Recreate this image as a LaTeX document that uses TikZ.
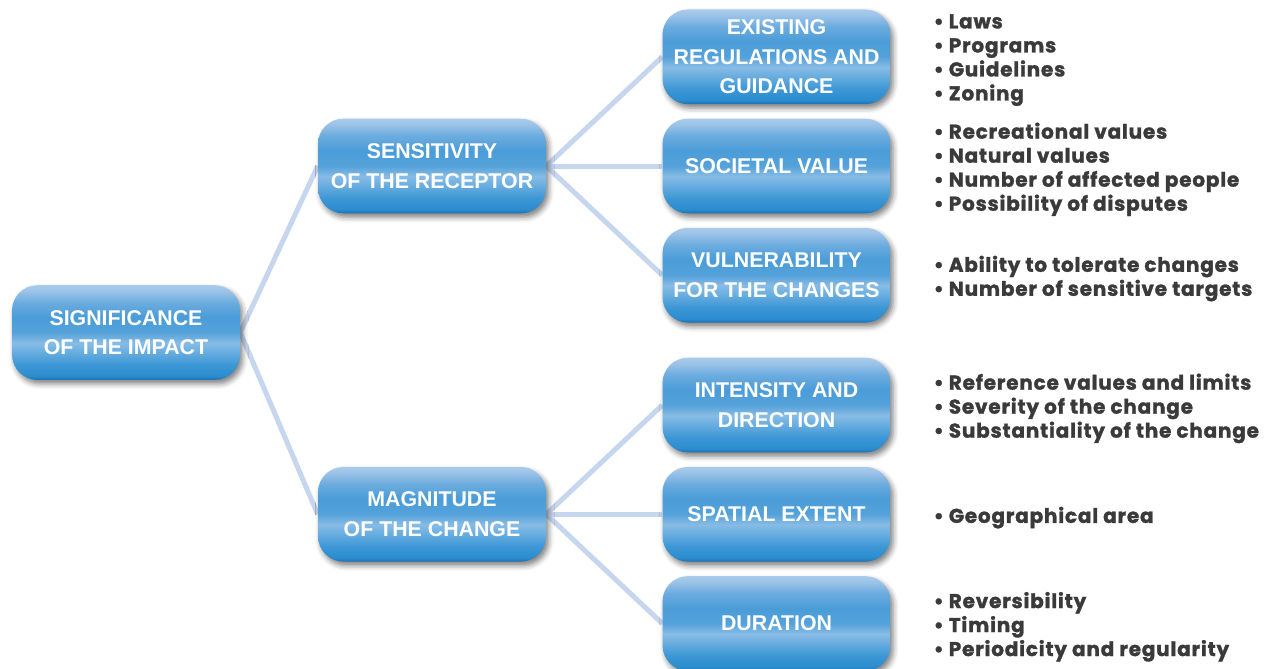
\documentclass[tikz,border=0pt]{standalone}
\usepackage{fontspec}
\setmainfont{Liberation Sans}
\newfontfamily\listfont{Poppins}[BoldFeatures={FakeBold=1.4}, LetterSpace=4]
\usetikzlibrary{positioning,backgrounds,shadows.blur}

\definecolor{linkblue}{HTML}{C6D6EE}
\definecolor{listgray}{HTML}{3A3A3A}
% stops of the glossy blue fill, bottom to top
\definecolor{glossA}{HTML}{1D70B0}
\definecolor{glossB}{HTML}{2A8CCF}
\definecolor{glossC}{HTML}{3D97D5}
\definecolor{glossD}{HTML}{6AAEE0}
\definecolor{glossE}{HTML}{88BCE5}
\definecolor{glossF}{HTML}{55A2DA}
\definecolor{glossG}{HTML}{4A9CD8}
\definecolor{glossH}{HTML}{6CACDF}
\definecolor{glossI}{HTML}{9CC3E8}
\definecolor{glossJ}{HTML}{A9CBEB}

\pgfdeclareverticalshading{glossy}{100bp}{
  color(0bp)=(glossA); color(25bp)=(glossA); color(27bp)=(glossB);
  color(33bp)=(glossC); color(40bp)=(glossD); color(44.5bp)=(glossE);
  color(50bp)=(glossF); color(58bp)=(glossG); color(66bp)=(glossH);
  color(72bp)=(glossI); color(75bp)=(glossJ); color(100bp)=(glossJ)}

\begin{document}
\begin{tikzpicture}[
	topic/.style={rectangle, rounded corners=19pt, minimum width=171pt, minimum height=71pt,
		inner sep=3pt, shade, shading=glossy, text=white, align=center,
		font=\fontsize{16}{22}\selectfont\bfseries,
		blur shadow={shadow xshift=2pt, shadow yshift=-3pt, shadow blur radius=4pt, shadow opacity=50}},
	items/.style={align=left, inner sep=0pt, yshift=-2.5pt, text=listgray,
		font=\listfont\fontsize{15}{18}\selectfont\bfseries},
	link/.style={draw=linkblue, line width=3.75pt}
	]
	\useasboundingbox (0pt,0pt) rectangle (949.5pt,-501pt);
	\node[topic] (soc) at (582.4pt,-124.5pt) {SOCIETAL VALUE};
	\node[topic] (exist) [above=10.5pt of soc] {EXISTING\\REGULATIONS AND\\GUIDANCE};
	\node[topic] (vuln) [below=10.5pt of soc] {VULNERABILITY\\FOR THE CHANGES};
	\node[topic] (inten) [below=26pt of vuln] {INTENSITY AND\\DIRECTION};
	\node[topic] (spat) [below=10.5pt of inten] {SPATIAL EXTENT};
	\node[topic] (dur) [below=10.5pt of spat] {DURATION};
	\node[topic] (sens) [left=87pt of soc] {SENSITIVITY\\OF THE RECEPTOR};
	\node[topic] (mag) [left=87pt of spat] {MAGNITUDE\\OF THE CHANGE};
	\node[topic] (sig) at (94.5pt,-249.4pt) {SIGNIFICANCE\\OF THE IMPACT};

	\node[items] (existlist) [right=32pt of exist] {• Laws\\• Programs\\• Guidelines\\• Zoning};
	\node[items] (soclist) [right=32pt of soc] {• Recreational values\\• Natural values\\• Number of affected people\\• Possibility of disputes};
	\node[items] (vulnlist) [right=32pt of vuln] {• Ability to tolerate changes\\• Number of sensitive targets};
	\node[items] (intenlist) [right=32pt of inten] {• Reference values and limits\\• Severity of the change\\• Substantiality of the change};
	\node[items] (spatlist) [right=32pt of spat] {• Geographical area};
	\node[items] (durlist) [right=32pt of dur] {• Reversibility\\• Timing\\• Periodicity and regularity};

	\begin{scope}[on background layer]
	\draw[link] (sig.east) -- (sens.west);
	\draw[link] (sig.east) -- (mag.west);
	\draw[link] (sens.east) -- (exist.west);
	\draw[link] (sens.east) -- (soc.west);
	\draw[link] (sens.east) -- (vuln.west);
	\draw[link] (mag.east) -- (inten.west);
	\draw[link] (mag.east) -- (spat.west);
	\draw[link] (mag.east) -- (dur.west);
	\end{scope}
\end{tikzpicture}
\end{document}
